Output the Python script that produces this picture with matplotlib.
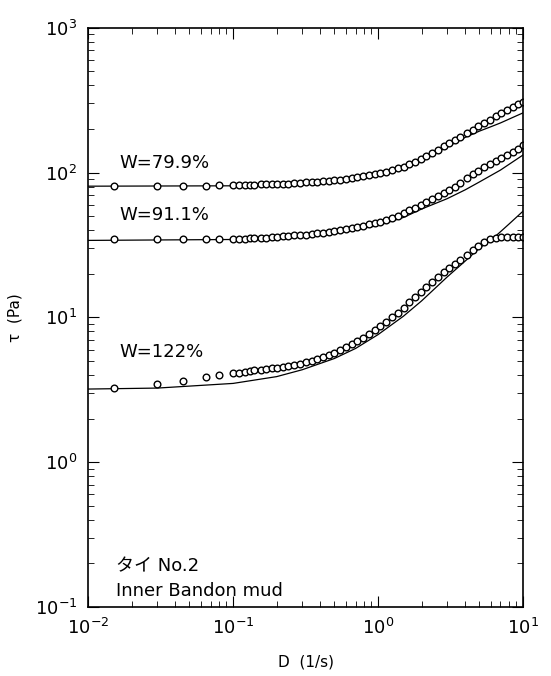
# -*- coding: utf-8 -*-
import numpy as np
import matplotlib
matplotlib.use("Agg")
import matplotlib.pyplot as plt

plt.rcParams['font.family'] = ['DejaVu Sans', 'Noto Sans CJK JP']

# shear rate D (1/s) of the measured points
D = [0.015, 0.03, 0.045, 0.065, 0.08, 0.10, 0.11, 0.12, 0.13, 0.14, 0.155, 0.17,
     0.185, 0.20, 0.22, 0.24, 0.265, 0.29, 0.32, 0.35, 0.38, 0.42, 0.46, 0.50,
     0.55, 0.60, 0.66, 0.72, 0.79, 0.87, 0.95, 1.04, 1.14, 1.25, 1.37, 1.5,
     1.64, 1.8, 1.97, 2.15, 2.35, 2.6, 2.85, 3.1, 3.4, 3.7, 4.1, 4.5, 4.9,
     5.4, 5.9, 6.5, 7.1, 7.8, 8.5, 9.3, 10.0]

# measured shear stress (Pa)
tau_799 = [81, 81, 81, 81, 81.5, 82, 82, 82, 82.5, 82.5, 83, 83,
           83, 83.5, 84, 84, 84.5, 85, 85.5, 86, 86.5, 87, 88, 88.5,
           89.5, 90.5, 91.5, 92.5, 94, 95.5, 97, 99, 101, 104, 107, 110,
           114, 119, 125, 131, 137, 144, 152, 160, 168, 176, 187, 197, 208,
           220, 232, 245, 258, 272, 285, 298, 308]
tau_911 = [34.5, 34.5, 34.5, 35, 35, 35, 35, 35, 35.2, 35.3, 35.5, 35.6,
           35.8, 36, 36.2, 36.5, 36.8, 37, 37.3, 37.6, 38, 38.5, 39, 39.5,
           40, 40.6, 41.3, 42, 42.8, 43.8, 44.7, 45.8, 47.2, 48.7, 50.5, 52.5,
           54.7, 57, 59.8, 62.5, 65.5, 69, 72.5, 76, 80, 85, 91, 97, 103,
           109, 115, 121, 127, 133, 139, 146, 155]
tau_122 = [3.23, 3.47, 3.66, 3.85, 4.0, 4.1, 4.15, 4.2, 4.25, 4.3, 4.35, 4.4,
           4.45, 4.5, 4.55, 4.6, 4.7, 4.8, 4.9, 5.0, 5.15, 5.3, 5.5, 5.7,
           5.95, 6.2, 6.5, 6.85, 7.2, 7.7, 8.2, 8.7, 9.3, 10.0, 10.8, 11.7,
           12.7, 13.8, 15.0, 16.3, 17.6, 19.0, 20.5, 22, 23.5, 25, 27, 29, 31,
           33, 34.5, 35.5, 36, 36, 36, 36, 36]

# fitted curves
D_fit_799 = [0.01, 0.1, 0.3, 0.5, 1, 1.5, 2, 3, 4, 5, 6, 7, 8.5, 10]
fit_799 = [80.5, 81, 83.5, 86, 95, 107, 121, 150, 175, 193, 207, 220, 240, 258]
D_fit_911 = [0.01, 0.1, 0.3, 0.5, 1, 1.5, 2, 3, 4, 5, 7, 10]
fit_911 = [34, 34.5, 36, 38, 43, 49, 56, 66, 76, 86, 104, 132]
D_fit_122 = [0.01, 0.03, 0.1, 0.2, 0.3, 0.5, 0.7, 1, 1.5, 2, 3, 4, 5, 6.6, 8, 10]
fit_122 = [3.2, 3.25, 3.5, 3.9, 4.35, 5.2, 6.1, 7.6, 10.2, 13, 19, 24.5, 30, 37, 44, 54]

labels = ["W=79.9%", "W=91.1%", "W=122%"]
label_pos = [(0.0165, 117), (0.0165, 51), (0.0165, 5.8)]


def main():
    fig = plt.figure(figsize=(5.51, 6.76), dpi=100)
    ax = fig.add_axes([0.16, 0.102, 0.789, 0.857])

    for d_fit, fit in [(D_fit_799, fit_799), (D_fit_911, fit_911), (D_fit_122, fit_122)]:
        ax.plot(d_fit, fit, color="black", linewidth=0.9)
    for tau in [tau_799, tau_911, tau_122]:
        ax.plot(D, tau, linestyle="none", marker="o", markersize=4.8,
                markerfacecolor="white", markeredgecolor="black", markeredgewidth=1.0)

    for lab, (x, y) in zip(labels, label_pos):
        ax.text(x, y, lab, fontsize=13, color="black", va="center")

    ax.text(0.0155, 0.19, "タイ No.2", fontsize=13, va="center")
    ax.text(0.0155, 0.13, "Inner Bandon mud", fontsize=13, va="center")

    ax.set_xscale("log")
    ax.set_yscale("log")
    ax.set_xlim(0.01, 10)
    ax.set_ylim(0.1, 1000)
    ax.tick_params(which="both", direction="in", top=True, right=True)
    ax.tick_params(which="major", length=8, labelsize=13, pad=8)
    ax.tick_params(which="minor", length=4)
    for s in ax.spines.values():
        s.set_linewidth(1.2)

    ax.set_xlabel("D  (1/s)", fontsize=11, labelpad=12)
    ax.set_ylabel("τ  (Pa)", fontsize=11, labelpad=9)

    fig.savefig("out.png", dpi=100)


if __name__ == "__main__":
    main()
